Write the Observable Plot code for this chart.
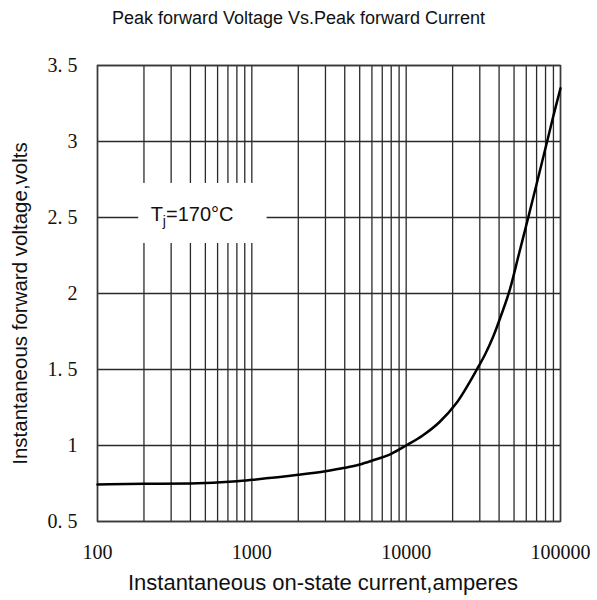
<!DOCTYPE html>
<html>
<head>
<meta charset="utf-8">
<script src="https://cdn.jsdelivr.net/npm/d3@7"></script>
<script src="https://cdn.jsdelivr.net/npm/@observablehq/plot@0.6"></script>
<style>
  html, body { margin: 0; padding: 0; background: #fff; }
  #title { height: 36px; line-height: 36px; text-align: center; font-family: "Liberation Sans", Arial, sans-serif; font-size: 18px; color: #111; width: 597px; }
</style>
</head>
<body>
<div id="title">Peak forward Voltage Vs.Peak forward Current</div>
<div id="chart"></div>
<script>
// Data
const currents = [100, 200, 400, 800, 1000, 2000, 3000, 4000, 5000, 6000, 8000, 10000, 12800, 16400, 21000, 28700, 32500, 36600, 41200, 47100, 53800, 61800, 71200, 81900, 90500, 100000];
const voltages = [0.743, 0.748, 0.750, 0.765, 0.774, 0.807, 0.831, 0.853, 0.875, 0.900, 0.945, 1.000, 1.066, 1.153, 1.274, 1.500, 1.600, 1.715, 1.855, 2.030, 2.260, 2.500, 2.750, 3.000, 3.180, 3.350];

const xGrid = [100, 200, 300, 400, 500, 600, 700, 800, 900,
               1000, 2000, 3000, 4000, 5000, 6000, 7000, 8000, 9000,
               10000, 20000, 30000, 40000, 50000, 60000, 70000, 80000, 90000, 100000];
const yGrid = [0.5, 1, 1.5, 2, 2.5, 3, 3.5];

const xTickValues = [100, 1000, 10000, 100000];
const xTickLabels = ["100", "1000", "10000", "100000"];
const yTickValues = [0.5, 1, 1.5, 2, 2.5, 3, 3.5];
const yTickLabels = ["0. 5", "1", "1. 5", "2", "2. 5", "3", "3. 5"];

const xLabel = "Instantaneous on-state current,amperes";
const yLabel = "Instantaneous forward voltage,volts";
const annotation = "Tj=170°C";

const data = currents.map((c, i) => ({current: c, voltage: voltages[i]}));

const serif = "'Liberation Serif', 'DejaVu Serif', serif";
const sans = "'Liberation Sans', Arial, sans-serif";

const plot = Plot.plot({
  width: 597,
  height: 564,
  marginTop: 29,
  marginBottom: 79,
  marginLeft: 97,
  marginRight: 37,
  x: {type: "log", domain: [100, 100000], axis: null},
  y: {domain: [0.5, 3.5], axis: null},
  style: {background: "#fff", overflow: "visible"},
  marks: [
    Plot.ruleX(xGrid, {x: d => d, stroke: "#2a2a2a", strokeWidth: 1.3}),
    Plot.ruleY(yGrid, {y: d => d, stroke: "#2a2a2a", strokeWidth: 1.3}),
    Plot.frame({stroke: "#3a3a3a", strokeWidth: 1.5}),
    Plot.rect([0], {x1: 185, x2: 1256, y1: 2.329, y2: 2.724, fill: "white"}),
    Plot.text([annotation], {x: 410, y: 2.5, text: d => d, fontSize: 20, fontFamily: sans, fill: "#111", dy: -3}),
    Plot.line(data, {x: "current", y: "voltage", stroke: "#000", strokeWidth: 2.5, curve: "monotone-x"}),
    Plot.text(xTickValues, {x: d => d, text: (d, i) => xTickLabels[i], frameAnchor: "bottom", lineAnchor: "middle", dy: 31, fontSize: 20, fontFamily: serif, fill: "#111"}),
    Plot.text(yTickValues, {y: d => d, text: (d, i) => yTickLabels[i], frameAnchor: "left", dx: -20, textAnchor: "end", fontSize: 20, fontFamily: serif, fill: "#111"}),
    Plot.text([xLabel], {text: d => d, frameAnchor: "bottom", textAnchor: "middle", lineAnchor: "middle", dx: -6, dy: 61, fontSize: 22, fontFamily: sans, fill: "#111"}),
    Plot.text([yLabel], {text: d => d, frameAnchor: "left", textAnchor: "middle", lineAnchor: "middle", dx: -77, dy: 10, rotate: -90, fontSize: 20.5, fontFamily: sans, fill: "#111"})
  ]
});

// subscript j in the annotation
plot.querySelectorAll("text").forEach(t => {
  if (t.textContent === annotation) {
    t.textContent = "";
    const ns = "http://www.w3.org/2000/svg";
    const a = document.createElementNS(ns, "tspan"); a.textContent = "T";
    const b = document.createElementNS(ns, "tspan"); b.textContent = "j"; b.setAttribute("dy", "5"); b.setAttribute("font-size", "14");
    const c = document.createElementNS(ns, "tspan"); c.textContent = "=170°C"; c.setAttribute("dy", "-5");
    t.append(a, b, c);
  }
});

document.getElementById("chart").appendChild(plot);
</script>
</body>
</html>
